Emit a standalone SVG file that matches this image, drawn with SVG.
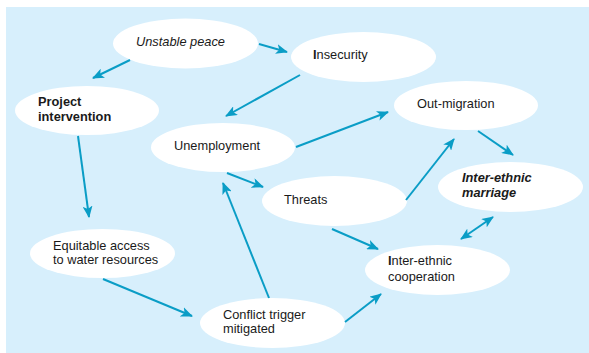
<svg xmlns="http://www.w3.org/2000/svg" width="589" height="353" viewBox="0 0 589 353">
<style>
.node ellipse{fill:#fff}
text{font-family:"Liberation Sans",Arial,sans-serif;font-size:12.8px;fill:#1a1a1a}
.it{font-style:italic}
.b{font-weight:bold}
.conn line{stroke:#0a9dc6;stroke-width:2;fill:none}
</style>
<defs>
<marker id="ah" viewBox="0 0 12 10" refX="11" refY="5" markerWidth="12" markerHeight="10" markerUnits="userSpaceOnUse" orient="auto-start-reverse">
<path d="M0,0 L12,5 L0,10 L3,5 z" fill="#0a9dc6"/>
</marker>
</defs>
<rect x="6" y="7" width="583" height="346" fill="#d7effc"/>
<g id="n-unstable" class="node"><ellipse cx="185.5" cy="43.5" rx="72.5" ry="25"/><text x="136" y="46" class="it">Unstable peace</text></g>
<g id="n-insecurity" class="node"><ellipse cx="363.5" cy="57" rx="72.5" ry="25"/><text x="313" y="59"><tspan class="b">I</tspan>nsecurity</text></g>
<g id="n-project" class="node"><ellipse cx="87" cy="110.5" rx="72" ry="24.5"/><text x="38" y="106" class="b">Project</text><text x="38" y="121" class="b">intervention</text></g>
<g id="n-unemployment" class="node"><ellipse cx="223" cy="147.5" rx="72" ry="24.5"/><text x="174" y="150">Unemployment</text></g>
<g id="n-outmigration" class="node"><ellipse cx="466" cy="105.5" rx="72" ry="24.5"/><text x="417" y="108">Out-migration</text></g>
<g id="n-marriage" class="node"><ellipse cx="510.5" cy="187" rx="72.5" ry="25"/><text x="462" y="182" class="it b">Inter-ethnic</text><text x="462" y="197" class="it b">marriage</text></g>
<g id="n-threats" class="node"><ellipse cx="334.5" cy="201" rx="72.5" ry="25"/><text x="284" y="204">Threats</text></g>
<g id="n-cooperation" class="node"><ellipse cx="437.5" cy="270" rx="72.5" ry="25"/><text x="388" y="265"><tspan class="b">I</tspan>nter-ethnic</text><text x="388" y="281">cooperation</text></g>
<g id="n-equitable" class="node"><ellipse cx="102.5" cy="253.5" rx="72.5" ry="24.5"/><text x="53" y="250">Equitable access</text><text x="53" y="264">to water resources</text></g>
<g id="n-conflict" class="node"><ellipse cx="272.5" cy="323" rx="72.5" ry="25"/><text x="223" y="319">Conflict trigger</text><text x="223" y="333">mitigated</text></g>
<g id="connectors" class="conn">
<line x1="259" y1="44" x2="287" y2="52" marker-end="url(#ah)"/>
<line x1="130" y1="60" x2="93" y2="78" marker-end="url(#ah)"/>
<line x1="300" y1="75" x2="226" y2="116" marker-end="url(#ah)"/>
<line x1="78" y1="136" x2="89" y2="217" marker-end="url(#ah)"/>
<line x1="296" y1="147" x2="388" y2="112" marker-end="url(#ah)"/>
<line x1="227" y1="173" x2="263" y2="187" marker-end="url(#ah)"/>
<line x1="269" y1="298" x2="223" y2="183" marker-end="url(#ah)"/>
<line x1="103" y1="279" x2="192" y2="316" marker-end="url(#ah)"/>
<line x1="406" y1="200" x2="454" y2="139" marker-end="url(#ah)"/>
<line x1="478" y1="131" x2="513" y2="155" marker-end="url(#ah)"/>
<line x1="332" y1="229" x2="378" y2="249" marker-end="url(#ah)"/>
<line x1="345" y1="322" x2="381" y2="294" marker-end="url(#ah)"/>
<line x1="461" y1="239" x2="493" y2="217" marker-start="url(#ah)" marker-end="url(#ah)"/>
</g>
</svg>
